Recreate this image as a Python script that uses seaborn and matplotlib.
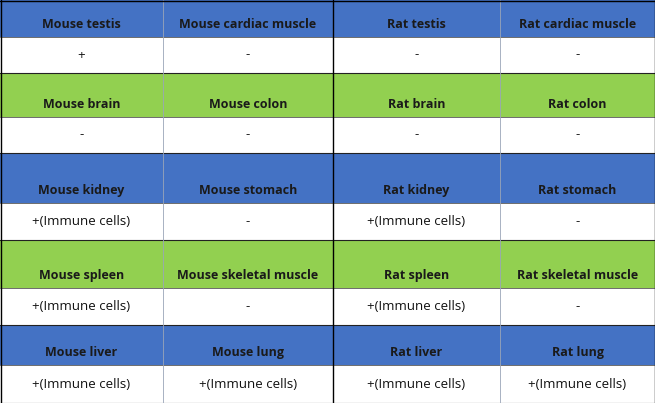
import matplotlib
matplotlib.use("Agg")
import matplotlib.pyplot as plt
import seaborn as sns
from matplotlib.patches import Rectangle

sns.set_theme(style="white")
plt.rcParams['font.family'] = ['Open Sans', 'DejaVu Sans']

headers = [
    ["Mouse testis", "Mouse cardiac muscle", "Rat testis", "Rat cardiac muscle"],
    ["Mouse brain", "Mouse colon", "Rat brain", "Rat colon"],
    ["Mouse kidney", "Mouse stomach", "Rat kidney", "Rat stomach"],
    ["Mouse spleen", "Mouse skeletal muscle", "Rat spleen", "Rat skeletal muscle"],
    ["Mouse liver", "Mouse lung", "Rat liver", "Rat lung"],
]
results = [
    ["+", "-", "-", "-"],
    ["-", "-", "-", "-"],
    ["+(Immune cells)", "-", "+(Immune cells)", "-"],
    ["+(Immune cells)", "-", "+(Immune cells)", "-"],
    ["+(Immune cells)", "+(Immune cells)", "+(Immune cells)", "+(Immune cells)"],
]
header_colors = ["#4472C4", "#92D050", "#4472C4", "#92D050", "#4472C4"]
row_edges = [0, 37, 73, 117, 153, 203, 240, 288, 325, 365, 403]
col_edges = [0, 163, 333, 500, 655]

fig = plt.figure(figsize=(6.55, 4.03), dpi=100)
ax = fig.add_axes([0, 0, 1, 1])
ax.set_xlim(0, 655)
ax.set_ylim(403, 0)
ax.axis("off")

for i in range(5):
    ht, hb = row_edges[2 * i], row_edges[2 * i + 1]
    db = row_edges[2 * i + 2]
    ax.add_patch(Rectangle((0, ht), 655, hb - ht, color=header_colors[i], lw=0))
    for j in range(4):
        cx = (col_edges[j] + col_edges[j + 1]) / 2
        ax.text(cx, hb - 6, headers[i][j], ha="center", va="bottom",
                fontsize=9, fontweight="bold", color="#1a1a1a")
        ax.text(cx, (hb + db) / 2, results[i][j], ha="center", va="center",
                fontsize=9.5, color="#111111")
    ax.axhline(hb, color="#555555", lw=0.6)
    ax.axhline(db, color="#222222", lw=0.8)

for x in col_edges[1:-1]:
    ax.axvline(x, color="#000000" if x == 333 else "#9aa5b8", lw=1.0 if x == 333 else 0.6)
ax.axvline(0.5, color="#000000", lw=1)
ax.axvline(654.5, color="#000000", lw=1)
ax.axhline(0.5, color="#000000", lw=1)

fig.savefig("out.png", dpi=100)
